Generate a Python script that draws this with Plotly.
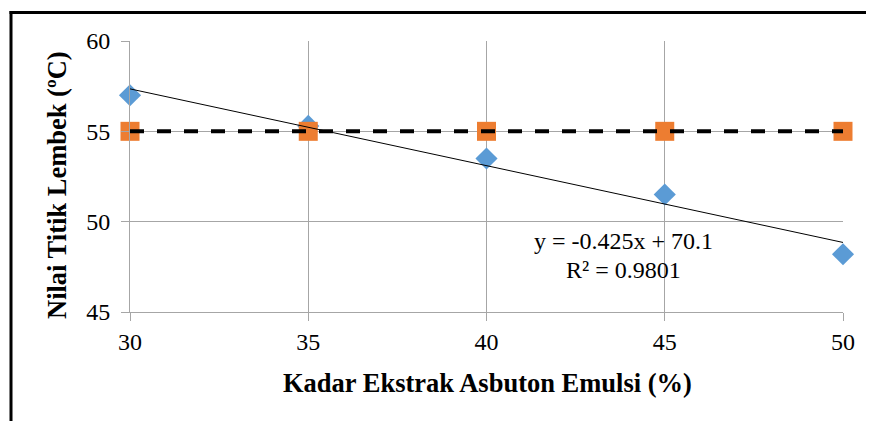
import plotly.graph_objects as go
import numpy as np

x_vals = [30, 35, 40, 45, 50]
measured = [57.0, 55.3, 53.5, 51.5, 48.2]
spec = [55, 55, 55, 55, 55]
trend_slope = -0.425
trend_intercept = 70.1
x_ticks = [30, 35, 40, 45, 50]
y_ticks = [45, 50, 55, 60]

OFF = 8  # page offset of the figure
W, H = 874 - OFF, 421 - OFF
ml, mt = 130 - OFF, 41 - OFF
pw, ph = 713, 271
mr, mb = W - ml - pw, H - mt - ph

def px2paper_x(px):
    return (px - OFF - ml) / pw

def px2paper_y(py):
    return (mt + ph - (py - OFF)) / ph

serif = "Liberation Serif, Times New Roman, serif"

fig = go.Figure()
fig.add_trace(go.Scatter(x=x_vals, y=measured, mode="markers", cliponaxis=False,
                         marker=dict(symbol="diamond", size=17, color="#5B9BD5"),
                         showlegend=False))
fig.add_trace(go.Scatter(x=x_vals, y=spec, mode="markers", cliponaxis=False,
                         marker=dict(symbol="square", size=19, color="#ED7D31"),
                         showlegend=False))
fig.add_trace(go.Scatter(x=x_vals, y=spec, mode="lines", cliponaxis=False,
                         line=dict(color="black", width=4, dash="14px,13px"),
                         showlegend=False, hoverinfo="skip"))
tx = np.array([x_vals[0], x_vals[-1]], dtype=float)
fig.add_trace(go.Scatter(x=tx, y=trend_slope * tx + trend_intercept, mode="lines",
                         line=dict(color="black", width=1), showlegend=False, hoverinfo="skip"))

axis_common = dict(showgrid=True, gridcolor="#A6A6A6", gridwidth=1,
                   showline=True, linecolor="#A6A6A6", linewidth=1, ticks="outside", ticklen=8,
                   tickcolor="#A6A6A6", zeroline=False, tickfont=dict(family=serif, size=24))

fig.update_layout(
    width=W, height=H,
    margin=dict(l=ml, r=mr, t=mt, b=mb),
    paper_bgcolor="white", plot_bgcolor="white",
    font=dict(family=serif, size=24, color="black"),
    xaxis=dict(range=[30, 50], tickvals=x_ticks, **axis_common),
    yaxis=dict(range=[45, 60], tickvals=y_ticks, ticklabelstandoff=6, **axis_common),
    shapes=[
        dict(type="line", xref="paper", yref="paper",
             x0=px2paper_x(11), x1=px2paper_x(11), y0=px2paper_y(11), y1=px2paper_y(430),
             line=dict(color="black", width=3)),
        dict(type="line", xref="paper", yref="paper",
             x0=px2paper_x(9.5), x1=px2paper_x(880), y0=px2paper_y(12.5), y1=px2paper_y(12.5),
             line=dict(color="black", width=3)),
    ],
    annotations=[
        dict(x=px2paper_x(623), y=px2paper_y(241), xref="paper", yref="paper", showarrow=False,
             text="y = -0.425x + 70.1", font=dict(family=serif, size=24), xanchor="center", yanchor="middle"),
        dict(x=px2paper_x(623), y=px2paper_y(270), xref="paper", yref="paper", showarrow=False,
             text="R² = 0.9801", font=dict(family=serif, size=24), xanchor="center", yanchor="middle"),
        dict(x=px2paper_x(487), y=px2paper_y(383), xref="paper", yref="paper", showarrow=False,
             text="<b>Kadar Ekstrak Asbuton Emulsi (%)</b>", font=dict(family=serif, size=26.5),
             xanchor="center", yanchor="middle"),
        dict(x=px2paper_x(57), y=px2paper_y(185), xref="paper", yref="paper", showarrow=False,
             text="<b>Nilai Titik Lembek (ºC)</b>", font=dict(family=serif, size=26.5), textangle=-90,
             xanchor="center", yanchor="middle"),
    ],
)

fig.write_html("out.html")
